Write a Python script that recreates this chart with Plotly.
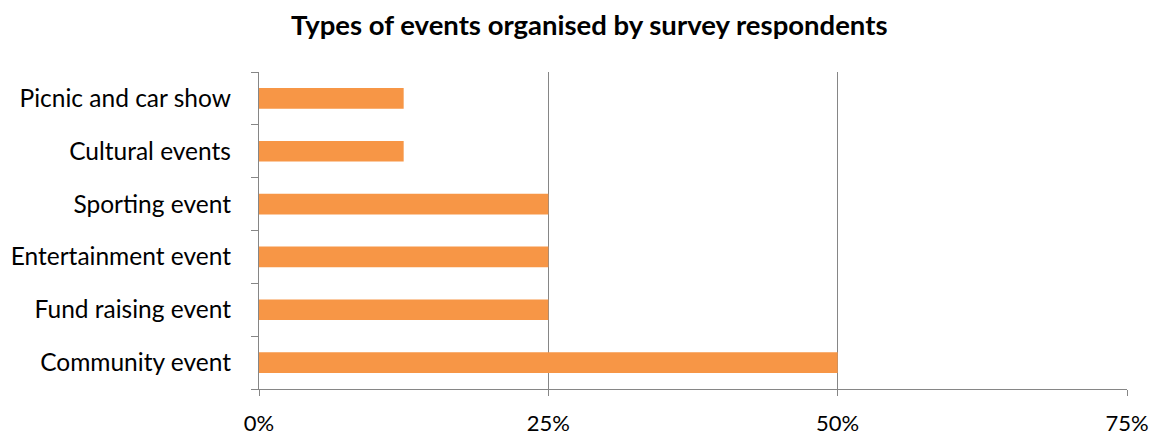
import plotly.graph_objects as go

categories = ["Community event", "Fund raising event", "Entertainment event",
              "Sporting event", "Cultural events", "Picnic and car show"]
values = [0.50, 0.25, 0.25, 0.25, 0.125, 0.125]
tick_vals = [0, 0.25, 0.5, 0.75]
tick_text = ["0%", "25%", "50%", "75%"]

FONT = "Lato"

fig = go.Figure(go.Bar(
    x=values, y=categories, orientation="h",
    marker=dict(color="#F79646", line=dict(width=0)),
    width=0.39,
))

fig.update_layout(
    template="none",
    width=1151, height=428,
    margin=dict(l=251, r=32, t=64, b=47, autoexpand=False),
    paper_bgcolor="white", plot_bgcolor="white",
    showlegend=False,
    font=dict(family=FONT, size=24.5, color="#000000"),
    title=dict(text="<b>Types of events organised by survey respondents</b>",
               x=0.505, xref="container", xanchor="center",
               y=0.96, yref="container", yanchor="middle",
               font=dict(family=FONT, size=27.5, color="#000000")),
)

fig.update_xaxes(
    range=[0, 0.75], tickvals=tick_vals, ticktext=tick_text,
    showgrid=True, gridcolor="#868686", gridwidth=1.3,
    showline=True, linecolor="#868686", linewidth=1.3,
    ticks="outside", ticklen=6, tickcolor="#868686", tickwidth=1.3,
    ticklabelstandoff=8, zeroline=False, automargin=False,
    tickfont=dict(family=FONT, size=22, color="#000000"),
)
fig.update_yaxes(
    type="category", categoryorder="array", categoryarray=categories,
    showline=True, linecolor="#868686", linewidth=1.3,
    ticks="outside", ticklen=7, tickcolor="#868686", tickwidth=1.3,
    tickson="boundaries", showgrid=False, zeroline=False, automargin=False,
    ticklabelstandoff=22,
    tickfont=dict(family=FONT, size=24.5, color="#000000"),
)

fig.write_html("out.html")
